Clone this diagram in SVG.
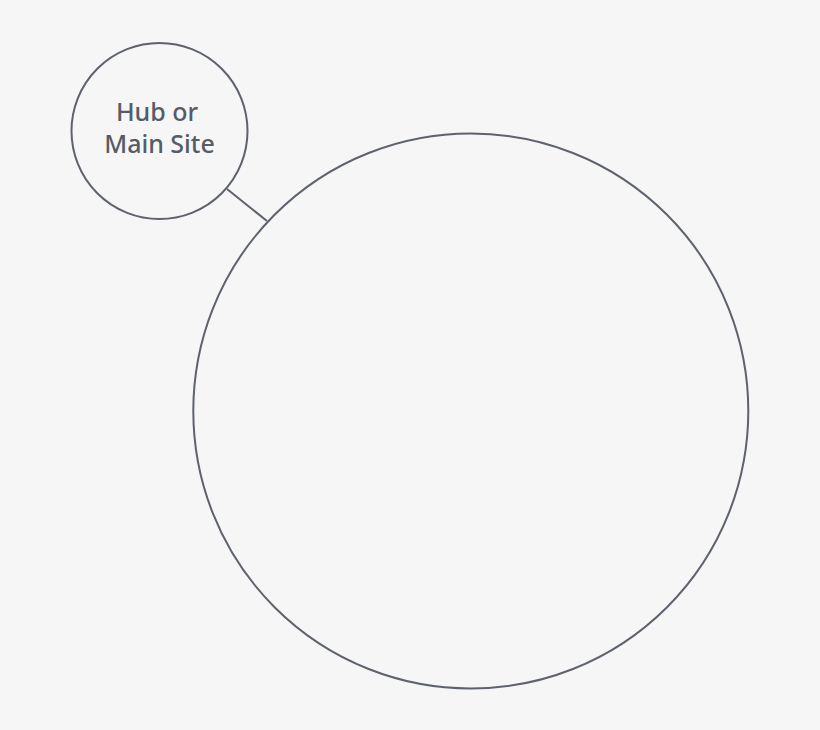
<svg xmlns="http://www.w3.org/2000/svg" width="820" height="730" viewBox="0 0 820 730">
<style>
.node{fill:none;stroke:#5d626d;stroke-width:2}
.conn{stroke:#5d626d;stroke-width:2;fill:none}
.lbl{font-family:"Noto Sans","Open Sans",sans-serif;font-size:25px;font-weight:500;fill:#565b66;text-anchor:middle}
</style>
<rect width="820" height="730" fill="#f6f6f6"/>
<g id="connectors">
<line class="conn" x1="227" y1="189" x2="267" y2="221"/>
</g>
<g id="hub">
<circle class="node" cx="159.5" cy="131" r="88"/>
<text class="lbl" x="157" y="121">Hub or</text>
<text class="lbl" x="159.5" y="153">Main Site</text>
</g>
<g id="region">
<circle class="node" cx="470.8" cy="411" r="277.5"/>
</g>
</svg>
